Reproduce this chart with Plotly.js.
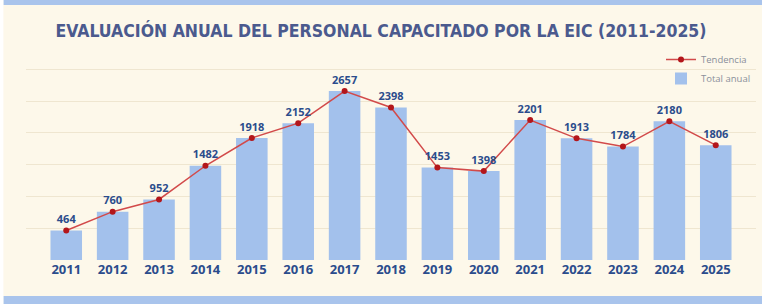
<!DOCTYPE html>
<html><head><meta charset="utf-8">
<script src="https://cdn.plot.ly/plotly-3.0.1.min.js"></script>
<style>html,body{margin:0;padding:0;background:#fdf8ea}</style>
</head><body><div id="chart" style="width:762px;height:304px"></div>
<script>
const years = ['2011','2012','2013','2014','2015','2016','2017','2018','2019','2020','2021','2022','2023','2024','2025'];
const totals = [464, 760, 952, 1482, 1918, 2152, 2657, 2398, 1453, 1398, 2201, 1913, 1784, 2180, 1806];
const labels = totals.map(String);
const titleText = 'EVALUACIÓN ANUAL DEL PERSONAL CAPACITADO POR LA EIC (2011-2025)';

const data = [
  {type:'bar', x:years, y:totals, name:'Total anual', marker:{color:'#a3c1ec'}, hoverinfo:'skip'},
  {type:'scatter', mode:'lines+markers+text', x:years, y:totals, name:'Tendencia',
   line:{color:'#d24a4a', width:1.5}, marker:{color:'#b3161b', size:6},
   text:labels, textposition:'top center', cliponaxis:false,
   textfont:{family:'Open Sans', size:11, color:'#2b4c8c', weight:'bold'}}
];
const layout = {
  width:762, height:304,
  paper_bgcolor:'#fdf8ea', plot_bgcolor:'#fdf8ea',
  margin:{l:26, r:6, t:60, b:44},
  bargap:0.32,
  showlegend:true,
  legend:{x:1, xanchor:'right', y:1.075, yanchor:'top', bgcolor:'rgba(0,0,0,0)',
    font:{family:'Open Sans', size:9.5, color:'#8a8f9a'}, traceorder:'reversed', itemwidth:30, tracegroupgap:0},
  title:{text:titleText, x:0.5, xanchor:'center', y:0.9, yanchor:'middle', yref:'container',
    font:{family:'DejaVu Sans Condensed, DejaVu Sans', size:17.5, color:'#4b5a8e', weight:'bold'}},
  xaxis:{type:'category', showgrid:false, zeroline:false, showline:false, ticks:'',
    tickfont:{family:'Open Sans', size:13, color:'#2b4c8c', weight:'bold'}},
  yaxis:{range:[0,3145], dtick:500, showgrid:true, gridcolor:'#efe6d0', gridwidth:1, zeroline:false, showticklabels:false},
  shapes:[
    {type:'rect', xref:'paper', yref:'paper', x0:-0.031, x1:1.01, y0:1.275, y1:1.31, fillcolor:'#a9c4ec', line:{width:0}, layer:'below'},
    {type:'rect', xref:'paper', yref:'paper', x0:-0.031, x1:1.01, y0:-0.18, y1:-0.23, fillcolor:'#a9c4ec', line:{width:0}, layer:'below'},
    {type:'rect', xref:'paper', yref:'paper', x0:-0.04, x1:-0.031, y0:-0.23, y1:1.31, fillcolor:'#ffffff', line:{width:0}, layer:'below'}
  ]
};
Plotly.newPlot('chart', data, layout, {displayModeBar:false, staticPlot:true});
</script></body></html>
